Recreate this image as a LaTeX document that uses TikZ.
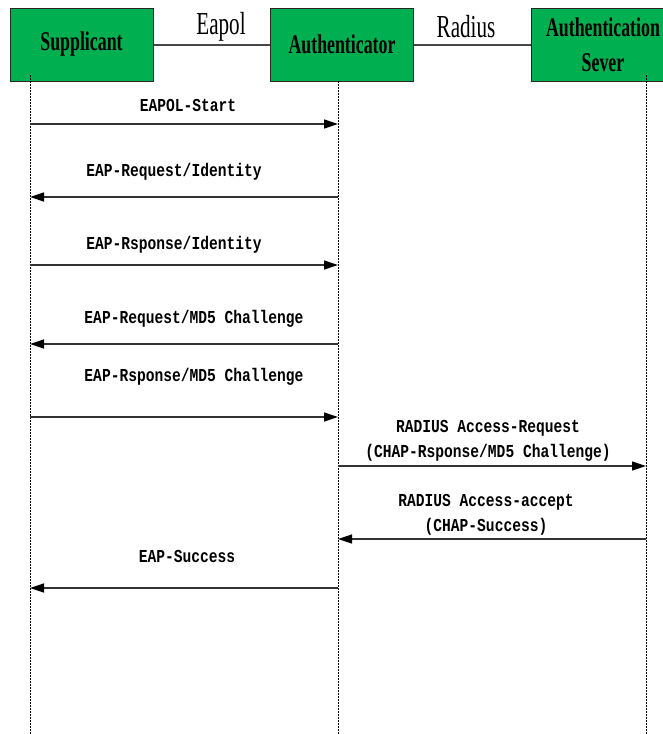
\documentclass[tikz,border=0pt]{standalone}
\usepackage{fontspec}
\setmainfont{Liberation Serif}
\newfontfamily\msgfont{Liberation Mono}
\usetikzlibrary{arrows.meta}
\definecolor{boxgreen}{RGB}{0,176,80}
\newcommand{\boxtxt}[1]{\scalebox{0.66}[1]{#1}}
\newcommand{\msgtxt}[1]{\scalebox{1}[1.25]{#1}}
\tikzset{
	party/.style={draw=black!85, line width=1pt, fill=boxgreen, minimum width=143pt, minimum height=73pt, inner sep=0pt, align=center, font=\fontsize{27}{35}\selectfont\bfseries},
	link/.style={draw=black!72, line width=2pt},
	linklabel/.style={inner sep=0pt, font=\fontsize{32}{36}\selectfont},
	life/.style={draw, line width=0.6pt, dash pattern=on 1.5pt off 1.5pt},
	msg/.style={draw=black!80, line width=1.3pt, -{Triangle[length=14pt,width=9pt,color=black]}},
	msglabel/.style={inner sep=0pt, align=center, font=\msgfont\fontsize{14.6}{25}\selectfont\bfseries}
}

\begin{document}
\begin{tikzpicture}[x=1pt, y=-1pt]
			%%%%% START %%%%%
			\useasboundingbox (0, 0) rectangle (662, 734);
			
			\node[party] (sup) at (81.5, 44.5) {\boxtxt{Supplicant}};
			\node[party] (aut) at (342, 44.5) {\boxtxt{Authenticator}};
			\node[party] (srv) at (603, 44.5) {\boxtxt{Authentication}\\\boxtxt{Sever}};
			
			\draw[link] (sup.east) -- (aut.west);
			\draw[link] (aut.east) -- (srv.west);
			\node[linklabel] (eapol) at (221, 27) {\boxtxt{Eapol}};
			\node[linklabel] (radius) at (466, 27) {\boxtxt{Radius}};
			
			\coordinate (supT) at (30, 75);
			\coordinate (supB) at (30, 734);
			\coordinate (autT) at (338, 81);
			\coordinate (autB) at (338, 734);
			\coordinate (srvT) at (646, 75);
			\coordinate (srvB) at (646, 734);
			\draw[life] (supT) -- (supB);
			\draw[life] (autT) -- (autB);
			\draw[life] (srvT) -- (srvB);
			
			\node[msglabel] (m1) at (188, 105) {\msgtxt{EAPOL-Start}};
			\draw[msg] (supT |- 0, 124) -- (autT |- 0, 124);
			
			\node[msglabel] (m2) at (174, 172) {\msgtxt{EAP-Request/Identity}};
			\draw[msg] (autT |- 0, 197) -- (supT |- 0, 197);
			
			\node[msglabel] (m3) at (174, 245) {\msgtxt{EAP-Rsponse/Identity}};
			\draw[msg] (supT |- 0, 265) -- (autT |- 0, 265);
			
			\node[msglabel] (m4) at (194, 319) {\msgtxt{EAP-Request/MD5 Challenge}};
			\draw[msg] (autT |- 0, 344) -- (supT |- 0, 344);
			
			\node[msglabel] (m5) at (194, 377) {\msgtxt{EAP-Rsponse/MD5 Challenge}};
			\draw[msg] (supT |- 0, 417) -- (autT |- 0, 417);
			
			\node[msglabel] (m6) at (488, 440.5) {\msgtxt{RADIUS Access-Request}\\\msgtxt{(CHAP-Rsponse/MD5 Challenge)}};
			\draw[msg] (autT |- 0, 466) -- (srvT |- 0, 466);
			
			\node[msglabel] (m7) at (486, 514.5) {\msgtxt{RADIUS Access-accept}\\\msgtxt{(CHAP-Success)}};
			\draw[msg] (srvT |- 0, 539) -- (autT |- 0, 539);
			
			\node[msglabel] (m8) at (187, 556) {\msgtxt{EAP-Success}};
			\draw[msg] (autT |- 0, 588) -- (supT |- 0, 588);
			
			%%%%% END %%%%%
\end{tikzpicture}
\end{document}
